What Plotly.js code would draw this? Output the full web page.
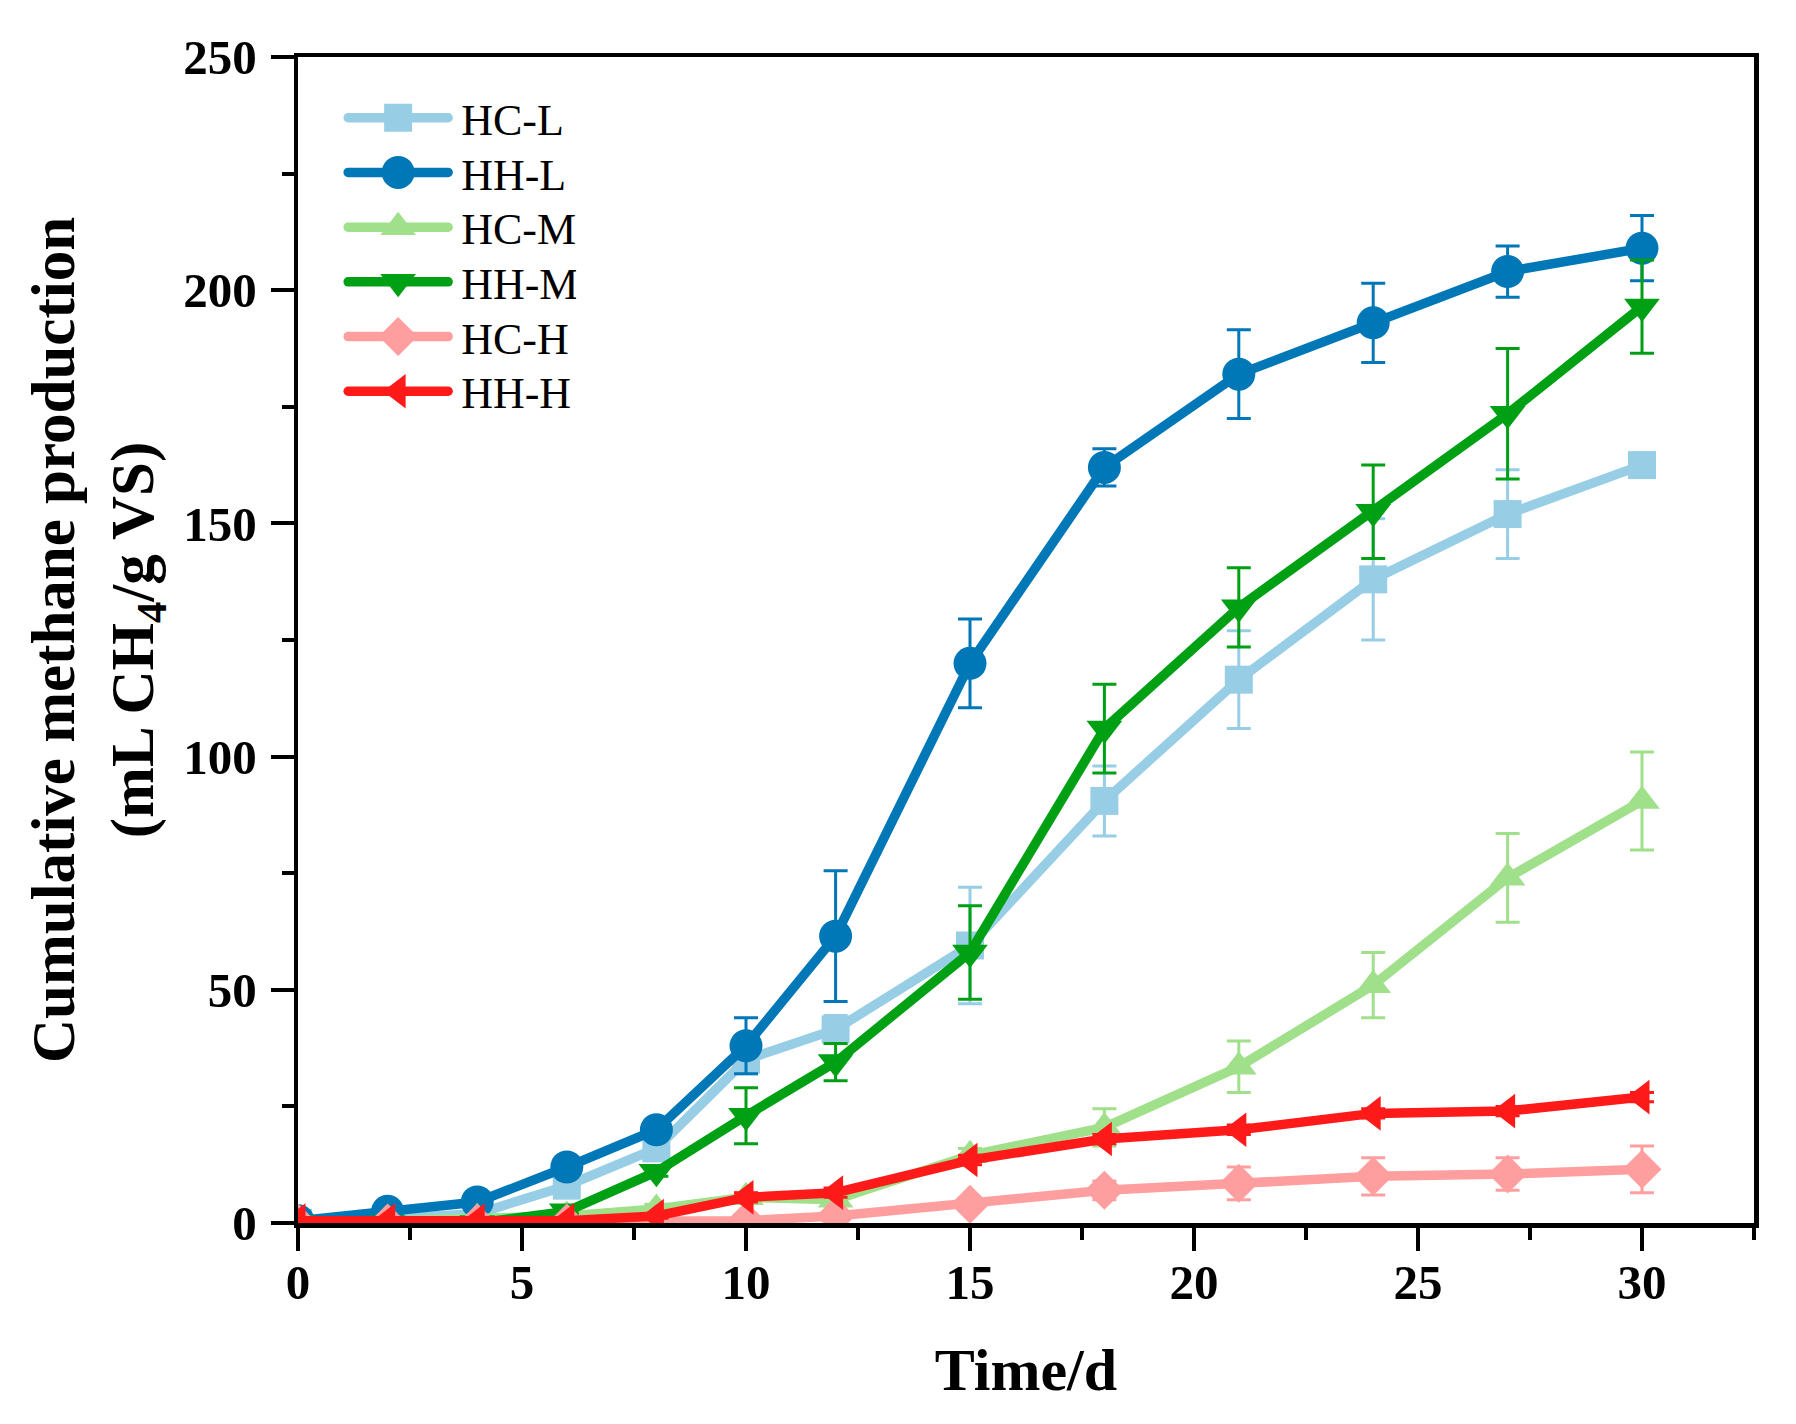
<!DOCTYPE html>
<html>
<head>
<meta charset="utf-8">
<script src="https://cdn.plot.ly/plotly-3.0.1.min.js"></script>
<style>html,body{margin:0;padding:0;background:#fff;}#chart{width:1796px;height:1424px;}</style>
</head>
<body>
<div id="chart"></div>
<script>
const days = [0, 2, 4, 6, 8, 10, 12, 15, 18, 21, 24, 27, 30];

const hcL = [0, 1, 2, 8, 16, 35, 41.5, 59.5, 90.5, 116.5, 138, 152, 162.5];
const hcLErr = [0, 0.5, 0.5, 1, 1.5, 3, 3, 12.5, 7.5, 10.5, 13, 9.5, 1];

const hhL = [0.5, 2.5, 4.5, 12, 20, 38, 61.5, 120, 162, 182, 193, 204, 209];
const hhLErr = [0, 0.5, 0.5, 1, 1.5, 6, 14, 9.5, 4, 9.5, 8.5, 5.5, 7];

const hcM = [0, 0.5, 1, 1.5, 3, 5.5, 5, 14.5, 20.5, 33.5, 51, 74, 90.5];
const hcMErr = [0, 0.5, 0.5, 0.5, 1, 1, 1, 1.5, 4, 5.5, 7, 9.5, 10.5];

const hhM = [0, 0, 0, 2.5, 11, 23, 34.5, 58, 106, 132, 152.5, 173.5, 196.5];
const hhMErr = [0, 0, 0, 0.5, 1, 6, 4, 10, 9.5, 8.5, 10, 14, 10];

const hcH = [0, 0, 0, 0, 0, 0.5, 1.5, 4, 7, 8.5, 10, 10.5, 11.5];
const hcHErr = [0, 0, 0, 0, 0, 0.5, 0.5, 1, 2, 3.5, 4, 3.5, 5];

const hhH = [0.5, 0.5, 0.5, 0.5, 1.5, 5.5, 6.5, 13.5, 18, 20, 23.5, 24, 27];
const hhHErr = [0, 0, 0, 0, 0.5, 1, 1, 1, 1, 1, 1, 1, 1];

const seriesNames = ["HC-L", "HH-L", "HC-M", "HH-M", "HC-H", "HH-H"];
const seriesColors = ["#97CEE6", "#0077B6", "#A0E08A", "#00A014", "#FF9E9E", "#FF1A1A"];
const seriesSymbols = ["square", "circle", "triangle-up", "triangle-down", "diamond", "triangle-left"];
const seriesValues = [hcL, hhL, hcM, hhM, hcH, hhH];
const seriesErrors = [hcLErr, hhLErr, hcMErr, hhMErr, hcHErr, hhHErr];
const markerSizes = [28, 33, 31, 31, 30, 30];

const SERIF = "Liberation Serif, Times New Roman, serif";

const traces = seriesNames.map((name, i) => ({
  type: "scatter",
  mode: "lines+markers",
  name: name,
  x: days,
  y: seriesValues[i],
  line: {color: seriesColors[i], width: 9.5},
  marker: {color: seriesColors[i], symbol: seriesSymbols[i], size: markerSizes[i], line: {width: 0}},
  error_y: {type: "data", array: seriesErrors[i], visible: true, color: seriesColors[i], thickness: 3, width: 12}
}));

const tickFont = {family: SERIF, size: 49, color: "#000", weight: "bold"};

const layout = {
  width: 1796,
  height: 1424,
  margin: {l: 298, r: 42, t: 57, b: 201},
  paper_bgcolor: "#fff",
  plot_bgcolor: "#fff",
  showlegend: true,
  legend: {
    x: 0.031, y: 0.978, xanchor: "left", yanchor: "top",
    font: {family: SERIF, size: 44, color: "#000"},
    bgcolor: "rgba(0,0,0,0)",
    itemwidth: 100,
    tracegroupgap: 0
  },
  xaxis: {
    range: [0, 32.5],
    tickmode: "linear", tick0: 0, dtick: 5,
    ticks: "outside", ticklen: 23, tickwidth: 4, tickcolor: "#000",
    minor: {ticks: "outside", ticklen: 12, tickwidth: 4, tickcolor: "#000", dtick: 2.5, tick0: 0},
    showline: true, linewidth: 4.5, linecolor: "#000", mirror: true,
    showgrid: false, zeroline: false,
    tickfont: tickFont,
    ticklabelstandoff: -10,
    title: {text: "<b>Time/d</b>", font: {family: SERIF, size: 60, color: "#000"}, standoff: 40}
  },
  yaxis: {
    range: [0, 250],
    tickmode: "linear", tick0: 0, dtick: 50,
    ticks: "outside", ticklen: 23, tickwidth: 4, tickcolor: "#000",
    minor: {ticks: "outside", ticklen: 12, tickwidth: 4, tickcolor: "#000", dtick: 25, tick0: 0},
    showline: true, linewidth: 4.5, linecolor: "#000", mirror: true,
    showgrid: false, zeroline: false,
    tickfont: tickFont,
    ticklabelstandoff: 4,
    title: {text: "<b>Cumulative methane production<br>(mL CH<sub>4</sub>/g VS)</b>", font: {family: SERIF, size: 61, color: "#000"}, standoff: 11}
  }
};

Plotly.newPlot("chart", traces, layout, {displayModeBar: false, staticPlot: true}).then(gd => {
  // spread legend rows evenly and enlarge legend symbols to match the plotted markers
  const rows = gd.querySelectorAll(".legend .traces");
  if (rows.length) {
    const m0 = /translate\(([-\d.]+)[ ,]+([-\d.]+)\)/.exec(rows[0].getAttribute("transform") || "");
    if (m0) {
      const x0 = parseFloat(m0[1]), y0 = parseFloat(m0[2]);
      rows.forEach((g, i) => g.setAttribute("transform", "translate(" + x0 + "," + (y0 + i * 54.7) + ")"));
    }
  }
  rows.forEach((g, i) => {
    g.querySelectorAll(".legendpoints path.scatterpts").forEach(p => {
      const t = p.getAttribute("transform") || "";
      p.setAttribute("transform", t + " scale(" + (markerSizes[i] / 16) + ")");
    });
    g.querySelectorAll(".legendlines path").forEach(p => {
      p.style.strokeWidth = "9.5px";
      p.style.strokeLinecap = "round";
    });
    g.querySelectorAll("text.legendtext").forEach(tx => {
      const x = parseFloat(tx.getAttribute("x") || "0");
      tx.setAttribute("x", String(x + 8));
    });
  });
});
</script>
</body>
</html>
